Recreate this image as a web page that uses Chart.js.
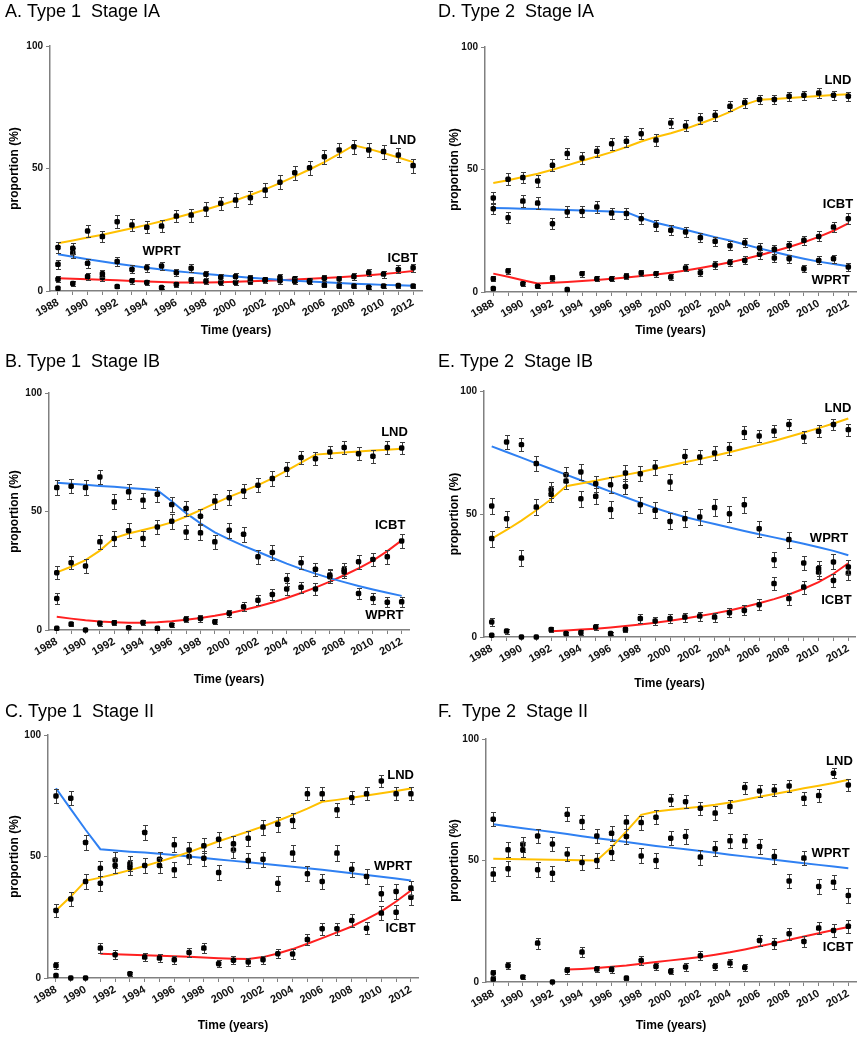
<!DOCTYPE html>
<html>
<head>
<meta charset="utf-8">
<script src="https://cdn.jsdelivr.net/npm/chart.js@4.4.1/dist/chart.umd.min.js"></script>
<style>
  html, body { margin: 0; padding: 0; background: #fff; }
  #wrap { position: relative; width: 867px; height: 1040px; overflow: hidden; }
  canvas { position: absolute; }
</style>
</head>
<body>
<div id="wrap"></div>
<script>
// ---- data (proportion %, one value per year) ----
const years = [1988, 1989, 1990, 1991, 1992, 1993, 1994, 1995, 1996, 1997, 1998, 1999, 2000,
               2001, 2002, 2003, 2004, 2005, 2006, 2007, 2008, 2009, 2010, 2011, 2012];

// A. Type 1 Stage IA
const lndA  = [17.8, 17.4, 24.5, 22.2, 28.3, 26.9, 26.0, 26.5, 30.6, 31.0, 33.5, 35.8, 37.1, 38.1, 41.2, 44.4, 48.3, 50.3, 54.8, 57.6, 58.9, 57.6, 56.9, 55.5, 51.2];
const wprtA = [10.9, 15.6, 11.3, 7.0, 12.0, 8.8, 9.5, 10.2, 7.5, 9.3, 6.8, 5.6, 5.9, 5.2, 4.6, 4.2, 4.0, 3.8, 2.4, 2.0, 2.0, 1.5, 2.0, 2.2, 2.0];
const icbtA = [4.8, 3.1, 5.9, 5.5, 1.8, 4.2, 3.5, 1.4, 2.7, 4.5, 4.0, 3.5, 3.5, 3.8, 4.4, 5.5, 5.0, 4.2, 5.2, 4.9, 5.9, 7.5, 6.9, 8.8, 9.5];
const lndFitA  = [19.5, 20.6, 21.8, 23.0, 24.3, 25.6, 27.0, 28.5, 30.0, 31.6, 33.3, 35.1, 37.0, 39.2, 41.5, 44.0, 46.8, 49.6, 52.6, 56.0, 59.5, 58.0, 56.3, 54.5, 52.6];
const wprtFitA = [15.0, 14.0, 13.0, 12.0, 11.1, 10.3, 9.5, 8.8, 8.1, 7.5, 6.9, 6.4, 5.9, 5.4, 5.0, 4.6, 4.2, 3.9, 3.6, 3.3, 3.0, 2.8, 2.5, 2.3, 2.1];
const icbtFitA = [5.2, 5.0, 4.8, 4.6, 4.4, 4.1, 3.9, 3.7, 3.5, 3.5, 3.5, 3.6, 3.8, 4.0, 4.2, 4.4, 4.7, 5.0, 5.3, 5.6, 6.0, 6.4, 6.9, 7.5, 8.2];

// B. Type 1 Stage IB
const lndB  = [24.2, 28.4, 27.0, 37.2, 38.6, 41.9, 38.6, 43.5, 45.9, 41.4, 41.0, 54.4, 55.8, 58.7, 61.1, 63.9, 67.8, 72.8, 72.3, 75.1, 77.0, 74.4, 73.3, 77.0, 76.8];
const wprtB = [60.1, 60.7, 60.1, 64.6, 54.1, 58.3, 54.8, 57.3, 52.9, 51.3, 48.0, 37.2, 42.1, 40.4, 30.9, 32.7, 21.3, 28.4, 25.6, 23.2, 24.5, 15.4, 13.3, 11.7, 11.9];
const icbtB = [13.3, 2.5, 0.0, 2.8, 3.1, 1.0, 3.2, 0.7, 2.1, 4.5, 4.9, 3.5, 7.0, 9.8, 12.6, 15.0, 17.3, 18.0, 17.3, 22.5, 25.5, 28.8, 29.8, 30.9, 37.6];
const lndFitB  = [24.3, 26.7, 29.5, 33.5, 38.8, 40.7, 42.2, 43.7, 45.4, 47.9, 50.6, 53.4, 56.2, 58.6, 61.1, 64.0, 67.2, 70.6, 74.0, 74.5, 74.9, 75.3, 75.7, 76.1, 76.5];
const wprtFitB = [62.1, 61.7, 61.3, 60.8, 60.4, 59.9, 59.5, 59.0, 54.3, 49.3, 45.0, 41.2, 38.2, 35.5, 33.0, 30.5, 28.0, 25.8, 23.8, 21.9, 20.2, 18.6, 17.1, 15.7, 14.4];
const icbtFitB = [5.6, 4.8, 4.1, 3.6, 3.3, 3.1, 3.1, 3.3, 3.7, 4.3, 5.1, 6.0, 7.1, 8.4, 9.9, 11.6, 13.5, 15.6, 17.9, 20.4, 23.1, 26.0, 29.3, 33.3, 37.8];

// C. Type 1 Stage II
const lndC  = [27.8, 32.5, 39.7, 39.0, 46.3, 45.5, 46.3, 46.3, 54.8, 52.7, 54.4, 57.1, 55.2, 57.5, 62.1, 63.3, 64.8, 75.8, 75.8, 69.2, 74.2, 75.8, 81.1, 75.8, 75.8];
const wprtC = [74.9, 74.0, 55.8, 45.2, 48.6, 47.0, 59.9, 48.9, 44.5, 50.0, 49.3, 43.4, 52.7, 48.4, 48.9, 39.0, 51.4, 42.9, 39.7, 51.4, 44.8, 41.8, 34.7, 35.6, 37.0];
const icbtC = [5.1, 0.0, 0.0, 12.3, 9.6, 1.8, 8.6, 8.2, 7.5, 10.5, 12.3, 5.9, 7.3, 6.6, 7.5, 10.0, 9.9, 15.8, 20.3, 20.3, 23.7, 20.5, 26.7, 27.1, 33.2];
const lndFitC  = [27.8, 33.5, 40.0, 41.3, 42.8, 44.4, 46.1, 47.9, 49.8, 51.8, 54.0, 56.3, 58.3, 60.3, 62.4, 64.7, 67.1, 69.7, 72.5, 73.3, 74.2, 75.1, 76.0, 77.0, 78.0];
const wprtFitC = [78.1, 69.5, 61.0, 53.0, 52.5, 52.0, 51.6, 51.1, 50.6, 50.0, 49.4, 48.8, 48.2, 47.6, 47.0, 46.4, 45.8, 45.2, 44.5, 43.8, 43.1, 42.4, 41.7, 40.9, 40.1];
const icbtFitC = [null, null, null, 10.0, 9.8, 9.6, 9.4, 9.2, 9.0, 8.7, 8.4, 8.1, 7.9, 7.8, 8.6, 10.1, 11.9, 14.1, 16.4, 18.8, 21.2, 24.2, 27.4, 31.5, 36.0];

// D. Type 2 Stage IA
const lndD  = [38.4, 46.0, 46.7, 45.3, 51.7, 56.5, 54.7, 57.4, 60.5, 61.5, 64.6, 62.0, 69.0, 67.8, 70.7, 72.1, 75.8, 77.3, 78.6, 78.6, 79.9, 80.3, 81.2, 80.3, 79.9];
const wprtD = [34.0, 30.3, 37.1, 36.3, 27.9, 32.7, 32.9, 34.7, 32.2, 32.0, 29.9, 27.2, 25.2, 24.5, 22.2, 20.7, 18.9, 20.1, 18.0, 13.9, 13.6, 9.5, 12.9, 13.6, 10.2];
const icbtD = [5.4, 8.6, 3.4, 2.3, 5.7, 1.0, 7.5, 5.4, 5.4, 6.4, 7.8, 7.5, 6.1, 9.8, 7.9, 11.0, 12.0, 12.9, 15.4, 17.4, 19.0, 21.1, 22.7, 26.5, 29.9];
const lndFitD  = [44.5, 45.6, 46.9, 48.3, 49.9, 51.7, 53.6, 55.3, 57.1, 59.2, 61.4, 63.3, 64.8, 66.6, 68.8, 71.0, 73.5, 76.5, 78.5, 78.8, 79.2, 79.6, 80.0, 80.4, 80.7];
const wprtFitD = [34.3, 34.2, 34.0, 33.9, 33.7, 33.5, 33.3, 33.1, 32.9, 32.6, 30.2, 28.3, 26.8, 25.4, 23.9, 22.4, 21.0, 19.4, 17.8, 16.3, 14.9, 13.6, 12.4, 11.4, 10.5];
const icbtFitD = [7.5, 6.2, 4.8, 3.5, 3.8, 4.1, 4.5, 4.9, 5.4, 5.9, 6.5, 7.1, 7.9, 8.8, 9.8, 10.9, 12.1, 13.5, 15.0, 16.6, 18.4, 20.3, 22.5, 25.0, 28.0];

// E. Type 2 Stage IB
const lndE  = [40.0, 48.1, 32.1, 52.8, 58.0, 63.4, 67.1, 62.3, 61.9, 66.7, 66.4, 69.1, 63.0, 73.4, 73.2, 74.8, 76.6, 83.1, 81.7, 83.7, 86.4, 81.3, 83.6, 86.4, 84.3];
const wprtE = [53.3, 79.3, 78.2, 70.5, 59.9, 66.0, 56.2, 57.2, 51.8, 61.2, 53.8, 51.5, 47.0, 48.1, 48.8, 52.6, 50.1, 53.8, 44.0, 31.4, 39.6, 30.1, 27.8, 30.5, 28.5];
const icbtE = [6.1, 2.4, 0.0, 0.0, 3.0, 1.4, 1.8, 4.1, 1.4, 3.0, 7.5, 6.5, 7.5, 8.1, 8.5, 8.1, 9.9, 10.8, 13.1, 21.7, 15.6, 20.3, 26.4, 23.0, 26.0];
const lndFitE  = [40.0, 43.5, 47.3, 51.5, 56.0, 61.3, 62.4, 63.5, 64.7, 65.9, 67.1, 68.4, 69.7, 71.0, 72.3, 73.7, 75.1, 76.6, 78.1, 79.7, 81.4, 83.1, 84.9, 86.8, 88.8];
const wprtFitE = [77.5, 75.2, 72.9, 70.6, 68.3, 66.0, 63.7, 61.4, 59.1, 56.8, 54.6, 52.4, 50.5, 48.8, 47.3, 45.9, 44.5, 43.1, 41.8, 40.5, 39.2, 37.9, 36.5, 35.0, 33.2];
const icbtFitE = [null, null, null, null, 2.3, 2.6, 3.0, 3.4, 3.9, 4.5, 5.1, 5.8, 6.6, 7.5, 8.5, 9.6, 10.8, 12.2, 13.7, 15.4, 17.3, 19.6, 22.3, 25.7, 30.0];

// F. Type 2 Stage II
const lndF  = [44.4, 46.6, 54.4, 46.2, 44.8, 52.7, 49.2, 50.0, 53.3, 65.8, 65.6, 67.8, 74.9, 74.2, 71.5, 69.5, 72.2, 80.0, 78.6, 79.0, 80.7, 75.6, 76.7, 85.9, 81.1];
const wprtF = [67.0, 54.4, 56.7, 60.1, 56.8, 69.0, 66.0, 60.1, 61.2, 59.9, 51.9, 50.0, 59.2, 59.9, 51.4, 54.8, 58.1, 58.1, 55.8, 51.6, 41.6, 51.0, 39.3, 41.1, 35.6];
const icbtF = [3.7, 6.7, 2.1, 16.0, 0.0, 4.8, 12.3, 5.3, 5.1, 1.6, 8.9, 6.4, 4.4, 6.2, 10.8, 6.4, 7.8, 6.0, 17.1, 15.8, 19.9, 16.7, 22.2, 21.2, 22.9];
const lndFitF  = [50.7, 50.6, 50.5, 50.4, 50.3, 50.2, 50.1, 50.0, 55.5, 62.0, 68.8, 70.2, 70.9, 71.5, 72.1, 72.9, 73.9, 75.0, 76.2, 77.4, 78.5, 79.7, 80.8, 81.9, 83.2];
const wprtFitF = [64.9, 64.1, 63.3, 62.5, 61.7, 60.9, 60.0, 59.2, 58.4, 57.6, 56.8, 56.0, 55.3, 54.6, 53.9, 53.2, 52.4, 51.7, 51.0, 50.3, 49.6, 48.9, 48.2, 47.5, 46.8];
const icbtFitF = [null, null, null, null, null, 5.1, 5.4, 5.8, 6.3, 6.8, 7.5, 8.2, 8.9, 9.6, 10.3, 11.2, 12.2, 13.4, 14.7, 16.0, 17.4, 18.7, 20.1, 21.4, 22.6];

// extra unlabelled 1988 point in every panel (A..F)
const other1988 = [1.1, 0.7, 1.0, 1.4, 0.7, 1.2];

// ---- layout ----
const FONT = "'Liberation Sans', Arial, Helvetica, sans-serif";
Chart.defaults.font.family = FONT;
Chart.defaults.color = '#000';

const SERIES = ['LND', 'WPRT', 'ICBT'];
const COLORS = { LND: '#FFC000', WPRT: '#2F80F2', ICBT: '#FF2020' };
const AXIS = '#808080';

// box = canvas [left, top, w, h]; area = plot [left, top, right, bottom] in page px
const panels = [
  { title: 'A. Type 1  Stage IA', box: [0, 0, 433, 345], area: [50, 46, 422, 291], xr: [1987.46, 2012.6],
    xTitleY: 331, yTitleX: 15, se: 5.7, pts: [lndA, wprtA, icbtA], fits: [lndFitA, wprtFitA, icbtFitA], other: other1988[0],
    labels: [['LND', 2011.3, 61.6], ['ICBT', 2011.3, 13.5], ['WPRT', 1995.0, 16.3]] },
  { title: 'B. Type 1  Stage IB', box: [0, 350, 433, 350], area: [49, 393, 409, 630], xr: [1987.46, 2012.51],
    xTitleY: 680, yTitleX: 15, se: 6.3, pts: [lndB, wprtB, icbtB], fits: [lndFitB, wprtFitB, icbtFitB], other: other1988[1],
    labels: [['LND', 2011.5, 83.5], ['ICBT', 2011.2, 44.3], ['WPRT', 2010.8, 6.3]] },
  { title: 'C. Type 1  Stage II', box: [0, 700, 433, 340], area: [48, 735, 418, 978], xr: [1987.46, 2012.48],
    xTitleY: 1026, yTitleX: 15, se: 6.3, pts: [lndC, wprtC, icbtC], fits: [lndFitC, wprtFitC, icbtFitC], other: other1988[2],
    labels: [['LND', 2011.3, 83.5], ['WPRT', 2010.8, 46.1], ['ICBT', 2011.3, 20.2]] },
  { title: 'D. Type 2  Stage IA', box: [433, 0, 434, 345], area: [485, 47, 856, 292], xr: [1987.44, 2012.52],
    xTitleY: 331, yTitleX: 455, se: 4.8, pts: [lndD, wprtD, icbtD], fits: [lndFitD, wprtFitD, icbtFitD], other: other1988[3],
    labels: [['LND', 2011.3, 86.5], ['ICBT', 2011.3, 35.9], ['WPRT', 2010.8, 4.9]] },
  { title: 'E. Type 2  Stage IB', box: [433, 350, 434, 350], area: [484, 391, 855, 637], xr: [1987.48, 2012.45],
    xTitleY: 684, yTitleX: 455, se: 6.6, pts: [lndE, wprtE, icbtE], fits: [lndFitE, wprtFitE, icbtFitE], other: other1988[4],
    labels: [['LND', 2011.3, 93.1], ['WPRT', 2010.7, 40.2], ['ICBT', 2011.2, 15.0]] },
  { title: 'F.  Type 2  Stage II', box: [433, 700, 434, 340], area: [486, 739, 856, 982], xr: [1987.51, 2012.52],
    xTitleY: 1026, yTitleX: 455, se: 6.1, pts: [lndF, wprtF, icbtF], fits: [lndFitF, wprtFitF, icbtFitF], other: other1988[5],
    labels: [['LND', 2011.4, 90.9], ['WPRT', 2010.8, 53.1], ['ICBT', 2011.3, 14.4]] }
];

function xy(vals) {
  return years.map((yr, i) => ({ x: yr, y: vals[i] })).filter(p => p.y !== null);
}

// vertical error bars (binomial-style SE, scaled per panel), drawn under the points
const errorBars = {
  id: 'errorBars',
  beforeDatasetDraw(chart, args) {
    const ds = chart.data.datasets[args.index];
    if (!ds.errScale) return;
    const ys = chart.scales.y, ctx = chart.ctx;
    ctx.save();
    ctx.strokeStyle = '#3c3c3c';
    ctx.lineWidth = 1;
    args.meta.data.forEach((el, i) => {
      const v = ds.data[i].y, p = v / 100;
      const e = ds.errScale * Math.sqrt(p * (1 - p));
      if (e < 0.5) return;
      const t = Math.round(ys.getPixelForValue(v + e)) + 0.5;
      const b = Math.round(ys.getPixelForValue(v - e)) + 0.5;
      const x = Math.round(el.x) + 0.5;
      ctx.beginPath();
      ctx.moveTo(x, t); ctx.lineTo(x, b);
      ctx.moveTo(x - 2.5, t); ctx.lineTo(x + 2.5, t);
      ctx.moveTo(x - 2.5, b); ctx.lineTo(x + 2.5, b);
      ctx.stroke();
    });
    ctx.restore();
  }
};

// titles and series labels
const panelText = {
  id: 'panelText',
  afterDraw(chart, args, o) {
    const { ctx, chartArea: a, scales: { x, y } } = chart;
    ctx.save();
    ctx.fillStyle = '#000';
    ctx.textBaseline = 'middle';
    ctx.font = '18px ' + FONT;
    ctx.textAlign = 'left';
    ctx.fillText(o.title, o.titleX, 12);
    ctx.font = 'bold 12px ' + FONT;
    ctx.textAlign = 'center';
    ctx.fillText('Time (years)', (a.left + a.right) / 2, o.xTitleY);
    ctx.font = 'bold 13px ' + FONT;
    o.labels.forEach(l => ctx.fillText(l[0], x.getPixelForValue(l[1]), y.getPixelForValue(l[2])));
    ctx.translate(o.yTitleX, (a.top + a.bottom) / 2);
    ctx.rotate(-Math.PI / 2);
    ctx.font = 'bold 12px ' + FONT;
    ctx.fillText('proportion (%)', 0, 0);
    ctx.restore();
  }
};

const pointStyle = {
  pointStyle: 'rectRounded', pointRadius: 3.2, backgroundColor: '#000', borderColor: '#000',
  borderWidth: 0, clip: false, order: 1
};

panels.forEach(p => {
  const [bl, bt, bw, bh] = p.box;
  const [al, at, ar, ab] = p.area;
  const cv = document.createElement('canvas');
  cv.width = bw; cv.height = bh;
  cv.style.left = bl + 'px'; cv.style.top = bt + 'px';
  document.getElementById('wrap').appendChild(cv);

  const datasets = [];
  SERIES.forEach((s, k) => {
    datasets.push({ type: 'line', label: s + ' fit', data: xy(p.fits[k]), borderColor: COLORS[s],
      borderWidth: 2, pointRadius: 0, fill: false, tension: 0, order: 2 });
  });
  SERIES.forEach((s, k) => {
    datasets.push(Object.assign({ type: 'scatter', label: s, data: xy(p.pts[k]), errScale: p.se }, pointStyle));
  });
  datasets.push(Object.assign({ type: 'scatter', label: 'other', data: [{ x: years[0], y: p.other }] }, pointStyle));

  new Chart(cv, {
    type: 'scatter',
    data: { datasets },
    options: {
      responsive: false,
      animation: false,
      events: [],
      layout: { padding: { left: 0, top: at - bt, right: bw - (ar - bl), bottom: 0 } },
      plugins: {
        legend: { display: false },
        tooltip: { enabled: false },
        panelText: { title: p.title, titleX: 5, xTitleY: p.xTitleY - bt, yTitleX: p.yTitleX - bl, labels: p.labels }
      },
      scales: {
        x: {
          type: 'linear', min: p.xr[0], max: p.xr[1],
          afterBuildTicks: s => { s.ticks = years.map(v => ({ value: v })); },
          afterFit: s => { s.height = bh - (ab - bt); },
          ticks: { autoSkip: false, minRotation: 30, maxRotation: 30, padding: 1,
            font: { size: 11, weight: 'bold' }, color: '#111',
            callback: v => (v % 2 === 0 ? String(v) : '') },
          grid: { drawOnChartArea: false, tickLength: 4, color: AXIS },
          border: { color: AXIS, width: 1.5 }
        },
        y: {
          min: 0, max: 100,
          afterBuildTicks: s => { s.ticks = [0, 50, 100].map(v => ({ value: v })); },
          afterFit: s => { s.width = al - bl; },
          ticks: { padding: 3, font: { size: 10, weight: 'bold' }, color: '#111' },
          grid: { drawOnChartArea: false, tickLength: 4, color: AXIS },
          border: { color: AXIS, width: 1.5 }
        }
      }
    },
    plugins: [errorBars, panelText]
  });
});
</script>
</body>
</html>
